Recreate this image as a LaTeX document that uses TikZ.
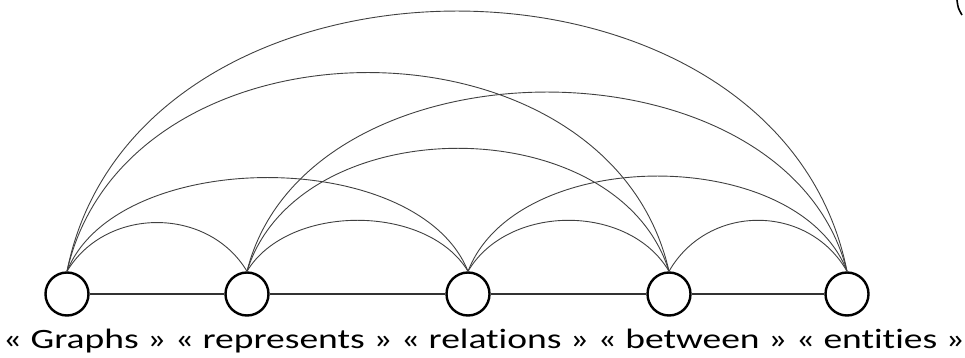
\documentclass[tikz,border=0pt]{standalone}
\usepackage{fontspec}
\usepackage{graphicx}
\setmainfont{Carlito}[Ligatures=NoCommon]
\begin{document}
\begin{tikzpicture}[x=1pt,y=1pt,
  vtx/.style={circle,draw=black,line width=2.4pt,minimum size=43pt,inner sep=0pt},
  link/.style={draw=black!80,line width=1.3pt},
  arcedge/.style={draw=black!75,line width=0.9pt}]
\useasboundingbox (0,0) rectangle (965,358);
\node[vtx] (n1) at (67,64) {};
\node[vtx] (n2) at (247,64) {};
\node[vtx] (n3) at (468,64) {};
\node[vtx] (n4) at (669,64) {};
\node[vtx] (n5) at (847,64) {};
% straight edges
\draw[link] (n1) -- (n2);
\draw[link] (n2) -- (n3);
\draw[link] (n3) -- (n4);
\draw[link] (n4) -- (n5);
% adjacent arcs
\draw[arcedge] (n1.north) .. controls +(39,65) and +(-39,65) .. (n2.north);
\draw[arcedge] (n2.north) .. controls +(41,68) and +(-41,68) .. (n3.north);
\draw[arcedge] (n3.north) .. controls +(40,68) and +(-40,68) .. (n4.north);
\draw[arcedge] (n4.north) .. controls +(39,68) and +(-39,68) .. (n5.north);
% distance 2
\draw[arcedge] (n1.north) .. controls +(50,125) and +(-50,125) .. (n3.north);
\draw[arcedge] (n2.north) .. controls +(51,164) and +(-51,164) .. (n4.north);
\draw[arcedge] (n3.north) .. controls +(49,127) and +(-49,127) .. (n5.north);
% distance 3
\draw[arcedge] (n1.north) .. controls +(60,265) and +(-60,265) .. (n4.north);
\draw[arcedge] (n2.north) .. controls +(60,239) and +(-60,239) .. (n5.north);
% distance 4
\draw[arcedge] (n1.north) .. controls +(69,347) and +(-69,347) .. (n5.north);
% label
\node[anchor=base,inner sep=0pt,font=\fontsize{28}{34}\selectfont] (lbl) at (484,9)
  {\scalebox{1.34}[1]{« Graphs » « represents » « relations » « between » « entities »}};
% cropped fragment at top right
\draw[black,line width=1.6pt] (957,358) .. controls (958,350) .. (962,343);
\end{tikzpicture}
\end{document}
